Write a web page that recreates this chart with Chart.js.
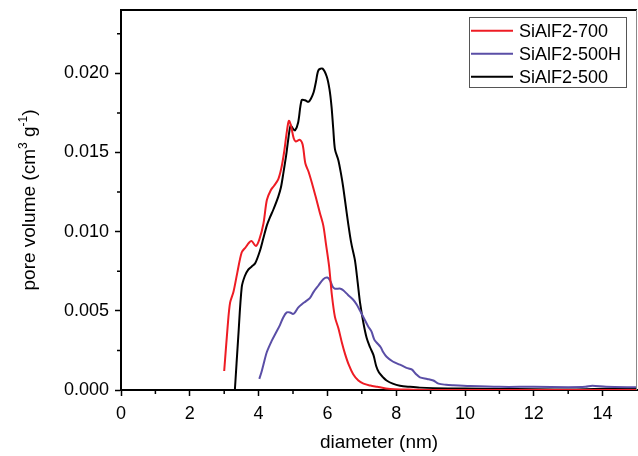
<!DOCTYPE html>
<html lang="en">
<head>
    <meta charset="UTF-8">
    <title>Pore size distribution</title>
    <script src="https://cdn.jsdelivr.net/npm/chart.js"></script>
    <style>
        body { margin: 0; background: #fff; }
        canvas { display: block; }
    </style>
</head>
<body>
    <canvas id="myChart" width="638" height="456"></canvas>
    <script>
        // tick labels
        const xTicks = [0, 2, 4, 6, 8, 10, 12, 14];
        const yTicks = [0, 0.005, 0.010, 0.015, 0.020];

        // SiAlF2-700 (red)
        const s700X = [3.00, 3.10, 3.17, 3.27, 3.38, 3.51, 3.62, 3.72, 3.80, 3.92, 4.02, 4.14, 4.24, 4.35, 4.45, 4.57, 4.66, 4.74, 4.82, 4.88, 4.94, 5.02, 5.08, 5.20, 5.28, 5.36, 5.45, 5.56, 5.66, 5.78, 5.88, 5.96, 6.05, 6.13, 6.22, 6.32, 6.42, 6.51, 6.62, 6.75, 6.90, 7.05, 7.25, 7.45, 7.70, 7.95, 8.5, 9, 10, 11, 12, 13, 14, 15];
        const s700Y = [0.0012, 0.0040, 0.0055, 0.0062, 0.0074, 0.0087, 0.0090, 0.0093, 0.0094, 0.0091, 0.0095, 0.0105, 0.0120, 0.0126, 0.0129, 0.0133, 0.0140, 0.0150, 0.0163, 0.0170, 0.0167, 0.0159, 0.0157, 0.0158, 0.0155, 0.0143, 0.0138, 0.0130, 0.0122, 0.0112, 0.0104, 0.0092, 0.0078, 0.0060, 0.0046, 0.0039, 0.0030, 0.0023, 0.0016, 0.0010, 0.0006, 0.0004, 0.00028, 0.0002, 0.0001, 0.00005, 0.00002, 0, 0, 0, 0, 0, 0, 0];

        // SiAlF2-500H (blue)
        const s500hX = [4.02, 4.08, 4.14, 4.24, 4.38, 4.50, 4.62, 4.72, 4.82, 4.91, 5.00, 5.06, 5.15, 5.25, 5.37, 5.49, 5.60, 5.74, 5.88, 6.00, 6.08, 6.16, 6.22, 6.38, 6.46, 6.60, 6.75, 6.85, 6.95, 7.07, 7.19, 7.28, 7.36, 7.43, 7.55, 7.62, 7.72, 7.90, 8.11, 8.30, 8.45, 8.58, 8.69, 8.90, 9.08, 9.23, 9.45, 9.66, 10.15, 11.0, 12.0, 13.0, 13.5, 13.7, 14.1, 15.0];
        const s500hY = [0.0007, 0.0011, 0.0016, 0.0024, 0.0031, 0.0036, 0.0041, 0.0046, 0.0049, 0.0049, 0.0048, 0.0049, 0.0052, 0.0054, 0.0056, 0.0058, 0.0062, 0.0066, 0.0070, 0.0071, 0.0069, 0.0065, 0.0064, 0.0064, 0.0063, 0.0060, 0.0057, 0.0054, 0.0050, 0.0045, 0.0040, 0.0037, 0.0032, 0.0030, 0.0027, 0.0024, 0.0021, 0.0018, 0.0016, 0.0014, 0.0013, 0.0010, 0.0008, 0.0007, 0.0006, 0.0004, 0.00033, 0.0003, 0.00025, 0.0002, 0.0002, 0.00018, 0.0002, 0.00027, 0.0002, 0.00017];

        // SiAlF2-500 (black)
        const s500X = [3.31, 3.41, 3.51, 3.60, 3.70, 3.80, 3.90, 4.04, 4.14, 4.24, 4.33, 4.43, 4.57, 4.65, 4.72, 4.80, 4.86, 4.93, 5.00, 5.06, 5.15, 5.25, 5.35, 5.45, 5.52, 5.60, 5.67, 5.74, 5.86, 5.98, 6.06, 6.12, 6.17, 6.22, 6.32, 6.40, 6.46, 6.56, 6.66, 6.71, 6.80, 6.88, 6.95, 7.05, 7.14, 7.24, 7.34, 7.42, 7.50, 7.62, 7.72, 7.90, 8.11, 8.40, 8.69, 9.5, 10.5, 11.5, 12.6, 13.5, 14.5, 15];
        const s500Y = [0, 0.0034, 0.0065, 0.0072, 0.0076, 0.0078, 0.0080, 0.0088, 0.0096, 0.0104, 0.0109, 0.0114, 0.0122, 0.0128, 0.0137, 0.0148, 0.0158, 0.0167, 0.0165, 0.0164, 0.0169, 0.0183, 0.0183, 0.0182, 0.0184, 0.0188, 0.0195, 0.0202, 0.0203, 0.0198, 0.0190, 0.0179, 0.0165, 0.0152, 0.0145, 0.0136, 0.0128, 0.0112, 0.0097, 0.0091, 0.0082, 0.0068, 0.0055, 0.0042, 0.0033, 0.0027, 0.0022, 0.0015, 0.0011, 0.0008, 0.0006, 0.0004, 0.00027, 0.0002, 0.00015, 0.0001, 0.00008, 0.00006, 0.00003, 0.00005, 0.0001, 0.0001];

        const FONT = "'Liberation Sans', Arial, sans-serif";

        function pts(xs, ys) {
            return xs.map((x, i) => ({ x: x, y: ys[i] }));
        }

        // minor ticks, frame, legend and axis titles
        const extras = {
            id: 'extras',
            afterDraw(chart) {
                const c = chart.ctx;
                const a = chart.chartArea;
                const xs = chart.scales.x;
                const ys = chart.scales.y;
                c.save();

                // minor ticks
                c.strokeStyle = '#000';
                c.lineWidth = 1.5;
                c.beginPath();
                for (let v = 1; v < 15; v += 2) {
                    const px = xs.getPixelForValue(v);
                    c.moveTo(px, a.bottom);
                    c.lineTo(px, a.bottom + 4);
                }
                for (let v = 0.0025; v < 0.024; v += 0.005) {
                    const py = ys.getPixelForValue(v);
                    c.moveTo(a.left, py);
                    c.lineTo(a.left - 4, py);
                }
                c.stroke();

                // top and right frame
                c.lineWidth = 2;
                c.beginPath();
                c.moveTo(a.left, a.top);
                c.lineTo(a.right, a.top);
                c.stroke();
                c.lineWidth = 1;
                c.strokeStyle = '#888';
                c.beginPath();
                c.moveTo(a.right - 0.5, a.top);
                c.lineTo(a.right - 0.5, a.bottom);
                c.stroke();

                // legend
                c.strokeStyle = '#555';
                c.lineWidth = 1;
                c.strokeRect(469.5, 17.5, 157, 70);
                c.font = '18px ' + FONT;
                c.fillStyle = '#000';
                c.textBaseline = 'alphabetic';
                c.textAlign = 'left';
                chart.data.datasets.forEach((ds, i) => {
                    const y = 30.7 + i * 23;
                    c.strokeStyle = ds.borderColor;
                    c.lineWidth = 2;
                    c.beginPath();
                    c.moveTo(471, y);
                    c.lineTo(513, y);
                    c.stroke();
                    c.fillText(ds.label, 519, y + 6.3);
                });

                // x title
                c.textAlign = 'center';
                c.font = '19px ' + FONT;
                c.fillText('diameter (nm)', (a.left + a.right) / 2, 448);

                // y title with superscripts
                const parts = [
                    ['pore volume (cm', 19, 0],
                    ['3', 12, -8],
                    [' g', 19, 0],
                    ['-1', 12, -8],
                    [')', 19, 0]
                ];
                let total = 0;
                parts.forEach(p => {
                    c.font = p[1] + 'px ' + FONT;
                    total += c.measureText(p[0]).width;
                });
                c.translate(35, (a.top + a.bottom) / 2);
                c.rotate(-Math.PI / 2);
                c.textAlign = 'left';
                let cx = -total / 2;
                parts.forEach(p => {
                    c.font = p[1] + 'px ' + FONT;
                    c.fillText(p[0], cx, p[2]);
                    cx += c.measureText(p[0]).width;
                });
                c.restore();
            }
        };

        const ctx = document.getElementById('myChart').getContext('2d');
        const myChart = new Chart(ctx, {
            type: 'line',
            data: {
                datasets: [{
                    label: 'SiAlF2-700',
                    data: pts(s700X, s700Y),
                    borderColor: '#ee1c24',
                    borderWidth: 2,
                    pointRadius: 0,
                    tension: 0.3
                }, {
                    label: 'SiAlF2-500H',
                    data: pts(s500hX, s500hY),
                    borderColor: '#5a4ea6',
                    borderWidth: 2,
                    pointRadius: 0,
                    tension: 0.3
                }, {
                    label: 'SiAlF2-500',
                    data: pts(s500X, s500Y),
                    borderColor: '#000000',
                    borderWidth: 2,
                    pointRadius: 0,
                    tension: 0.3
                }]
            },
            options: {
                responsive: false,
                animation: false,
                layout: { padding: { top: 10, right: 1, left: 0, bottom: 0 } },
                plugins: {
                    legend: { display: false },
                    tooltip: { enabled: false }
                },
                scales: {
                    x: {
                        type: 'linear',
                        min: 0,
                        max: 15,
                        afterFit: s => { s.height = 66; s.paddingLeft = 0; s.paddingRight = 0; },
                        afterBuildTicks: s => { s.ticks = xTicks.map(v => ({ value: v })); },
                        grid: { drawOnChartArea: false, drawTicks: true, tickLength: 6, tickColor: '#000', tickWidth: 1.5 },
                        border: { color: '#000', width: 2 },
                        ticks: { color: '#000', font: { size: 18, family: FONT }, padding: 7, maxRotation: 0 }
                    },
                    y: {
                        type: 'linear',
                        min: 0,
                        max: 0.024,
                        afterFit: s => { s.width = 121; s.paddingTop = 0; s.paddingBottom = 0; },
                        afterBuildTicks: s => { s.ticks = yTicks.map(v => ({ value: v })); },
                        grid: { drawOnChartArea: false, drawTicks: true, tickLength: 6, tickColor: '#000', tickWidth: 1.5 },
                        border: { color: '#000', width: 2 },
                        ticks: { color: '#000', font: { size: 18, family: FONT }, padding: 6, callback: v => v.toFixed(3) }
                    }
                }
            },
            plugins: [extras]
        });
    </script>
</body>
</html>
